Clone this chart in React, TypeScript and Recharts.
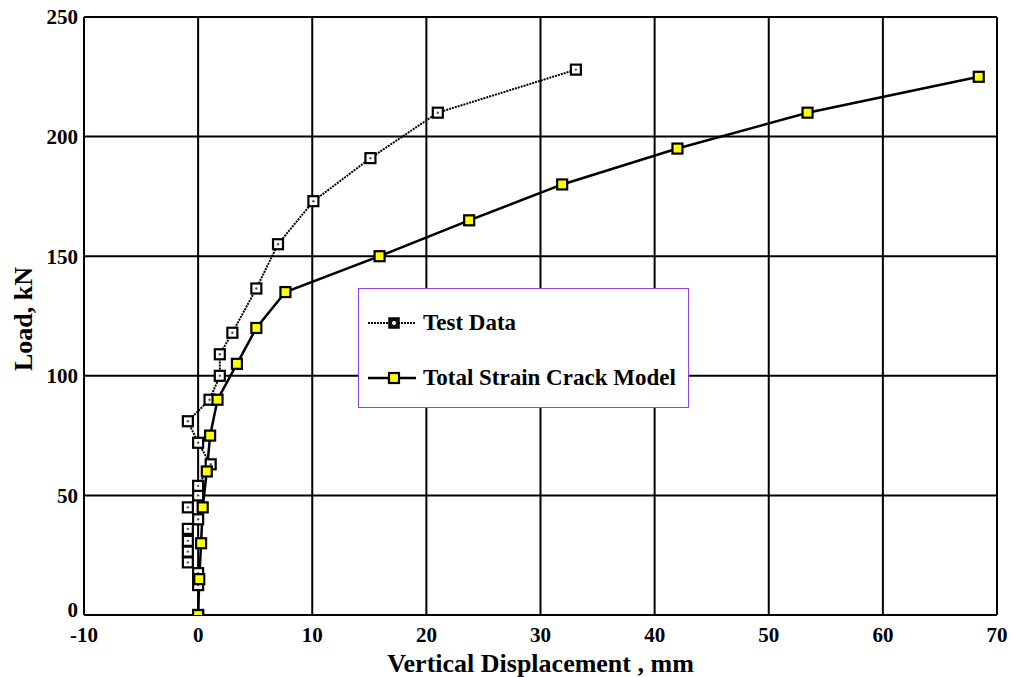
import { LineChart, Line, XAxis, YAxis, CartesianGrid, Legend } from "recharts";

// Test data (vertical displacement mm, load kN)
const testDisp = [0, 0, 0, -0.9, -0.9, -0.9, -0.9, 0, -0.9, 0, 0, 1.1, 0, -0.9, 1.0, 1.9, 1.9, 3.0, 5.1, 7.0, 10.1, 15.1, 21.0, 33.1];
const testLoad = [0, 12.5, 17.5, 22, 26.5, 31, 36, 40, 45, 50, 54, 63, 72, 81, 90, 100, 109, 118, 136.5, 155, 173, 191, 210, 228];

// Total strain crack model
const modelDisp = [0, 0.1, 0.26, 0.4, 0.76, 1.05, 1.7, 3.4, 5.1, 7.65, 15.9, 23.75, 31.9, 42.0, 53.4, 68.4];
const modelLoad = [0, 15, 30, 45, 60, 75, 90, 105, 120, 135, 150, 165, 180, 195, 210, 225];

const xTicks = [-10, 0, 10, 20, 30, 40, 50, 60, 70];
const yTicks = [0, 50, 100, 150, 200, 250];

const testData = testDisp.map((x, i) => ({ x, y: testLoad[i] }));
const modelData = modelDisp.map((x, i) => ({ x, y: modelLoad[i] }));

const FONT = "'Liberation Serif', 'Times New Roman', serif";

function TestMarker(props: any) {
  const { cx, cy, index } = props;
  if (cx == null || cy == null) return null;
  return (
    <g key={"t" + index}>
      <rect x={cx - 5} y={cy - 5} width={10} height={10} fill="#fff" stroke="#000" strokeWidth={2.2} />
      <circle cx={cx} cy={cy} r={1.2} fill="#555" />
    </g>
  );
}

function ModelMarker(props: any) {
  const { cx, cy, index } = props;
  if (cx == null || cy == null) return null;
  return <rect key={"m" + index} x={cx - 5} y={cy - 5} width={10} height={10} fill="#ffff00" stroke="#000" strokeWidth={2.2} />;
}

// y tick: the "0" sits a touch higher so it clears the "-10" below it
function YTick(props: any) {
  const { x, y, payload } = props;
  const lift = payload.value === 0 ? -5 : 0;
  return (
    <text
      x={x}
      y={y + lift}
      dy="0.355em"
      textAnchor="end"
      fill="#000"
      fontSize={21}
      fontWeight="bold"
      fontFamily={FONT}
    >
      {payload.value}
    </text>
  );
}

function LegendBox() {
  return (
    <div
      style={{
        width: 331,
        height: 120,
        boxSizing: "border-box",
        border: "1.5px solid #9040e8",
        background: "#fff",
        fontFamily: FONT,
        fontWeight: "bold",
        fontSize: 23,
        position: "relative",
      }}
    >
      <svg width={60} height={120} style={{ position: "absolute", left: 0, top: 0 }}>
        <line x1={9} y1={34} x2={57} y2={34} stroke="#000" strokeWidth={2} strokeDasharray="2 1" />
        <rect x={30} y={29} width={10} height={10} fill="#111" stroke="#000" strokeWidth={1.5} />
        <circle cx={35} cy={34} r={2} fill="#fff" />
        <line x1={9} y1={89} x2={57} y2={89} stroke="#000" strokeWidth={2.5} />
        <rect x={30} y={84} width={10} height={10} fill="#ffff00" stroke="#000" strokeWidth={2.2} />
      </svg>
      <div style={{ position: "absolute", left: 64, top: 20, lineHeight: "28px" }}>Test Data</div>
      <div style={{ position: "absolute", left: 64, top: 75, lineHeight: "28px" }}>Total Strain Crack Model</div>
    </div>
  );
}

export default function App() {
  return (
    <div style={{ position: "absolute", left: 0, top: 0, width: 1013, height: 677, background: "#fff" }}>
      <LineChart width={1013} height={677} margin={{ top: 17, right: 16, bottom: 0, left: 0 }}>
        <CartesianGrid stroke="#000" strokeWidth={2} horizontalValues={yTicks} verticalValues={xTicks} />
        <XAxis
          dataKey="x"
          type="number"
          domain={[-10, 70]}
          ticks={xTicks}
          allowDataOverflow
          height={62}
          tickLine={false}
          tickSize={0}
          tickMargin={12}
          axisLine={{ stroke: "#000", strokeWidth: 2 }}
          tick={{ fill: "#000", fontSize: 21, fontWeight: "bold", fontFamily: FONT }}
          label={{
            value: "Vertical Displacement , mm",
            position: "insideBottom",
            offset: 5,
            fill: "#000",
            fontSize: 26,
            fontWeight: "bold",
            fontFamily: FONT,
          }}
        />
        <YAxis
          dataKey="y"
          type="number"
          domain={[0, 250]}
          ticks={yTicks}
          allowDataOverflow
          width={84}
          tickLine={false}
          tickSize={0}
          tickMargin={6}
          axisLine={{ stroke: "#000", strokeWidth: 2 }}
          tick={YTick}
          label={{
            content: (p: any) => {
              const vb = p.viewBox || { x: 0, y: 17, width: 84, height: 598 };
              const x = vb.x + 32;
              const y = vb.y + vb.height / 2 + 3;
              return (
                <text
                  x={x}
                  y={y}
                  transform={`rotate(-90, ${x}, ${y})`}
                  textAnchor="middle"
                  fill="#000"
                  fontSize={26}
                  fontWeight="bold"
                  fontFamily={FONT}
                >
                  Load, kN
                </text>
              );
            },
          }}
        />
        <Legend
          layout="vertical"
          align="center"
          verticalAlign="middle"
          content={() => <LegendBox />}
          wrapperStyle={{ position: "absolute", left: 358, top: 288, width: 331, height: 120 }}
        />
        <Line
          data={testData}
          dataKey="y"
          name="Test Data"
          stroke="#000"
          strokeWidth={2}
          strokeDasharray="2 1"
          dot={TestMarker}
          activeDot={false}
          isAnimationActive={false}
        />
        <Line
          data={modelData}
          dataKey="y"
          name="Total Strain Crack Model"
          stroke="#000"
          strokeWidth={2.5}
          dot={ModelMarker}
          activeDot={false}
          isAnimationActive={false}
        />
      </LineChart>
    </div>
  );
}
